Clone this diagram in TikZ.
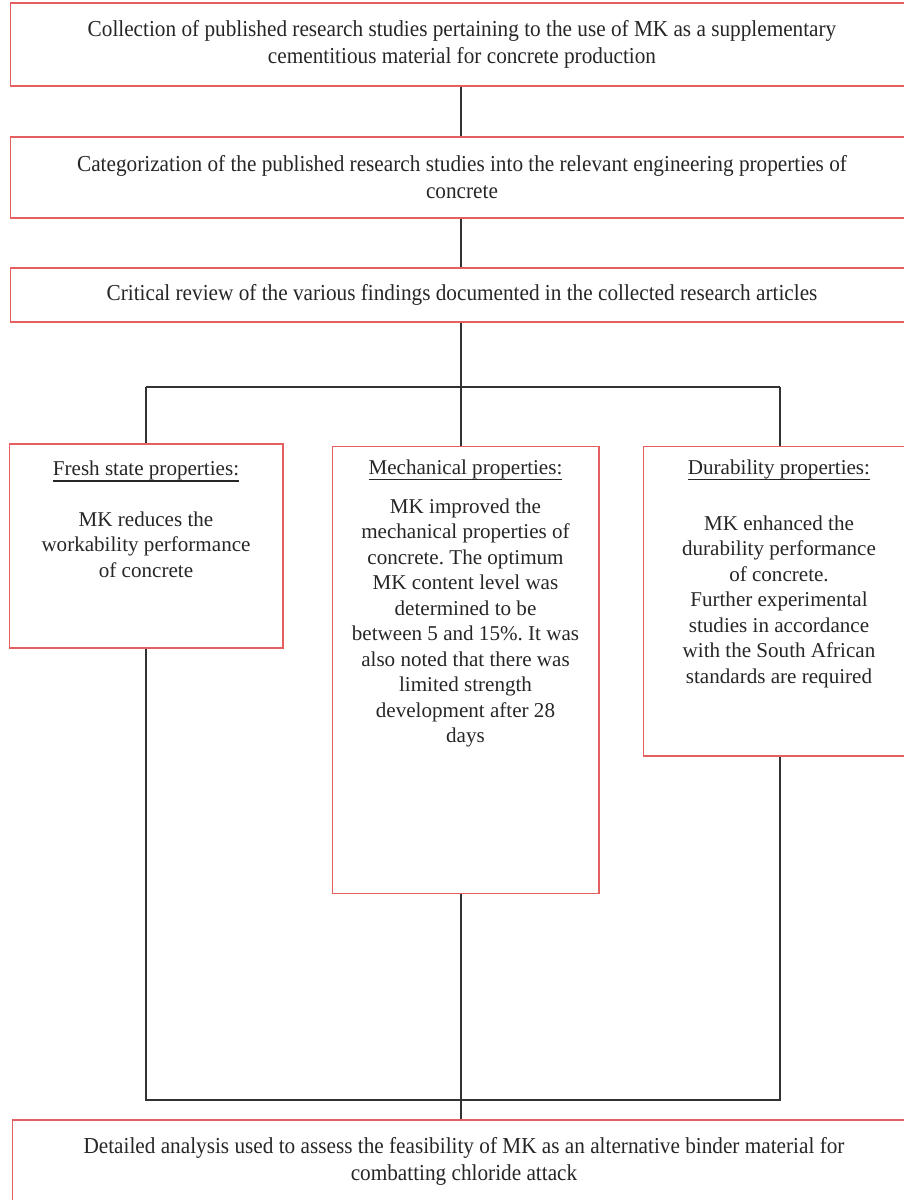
\documentclass[tikz,border=0pt]{standalone}
\usepackage{fontspec}
\setmainfont{Liberation Serif}
\newfontfamily\widefont[FakeStretch=0.93]{Liberation Serif}
\usepackage{tikz}
\usetikzlibrary{positioning}

\definecolor{boxred}{RGB}{228,96,96}
\definecolor{linegray}{RGB}{50,50,50}
\newcommand{\headline}[1]{\setbox0\hbox{#1}\rlap{\rule[-3.4pt]{\wd0}{0.9pt}}\box0}
\frenchspacing

\begin{document}
\begin{tikzpicture}[x=0.02cm, y=-0.02cm,
    widebox/.style={draw=boxred, line width=0.6pt, align=center, minimum width=18.08cm,
      font=\widefont\fontsize{13}{15.3}\selectfont, text=black!85},
    propbox/.style={draw=boxred, line width=0.6pt},
    proptext/.style={align=center, inner sep=0pt, anchor=north,
      font=\fontsize{12}{14.5}\selectfont, text=black!85},
    link/.style={draw=linegray, line width=0.6pt}]
    \useasboundingbox (0,0) rectangle (903,1200);

    % top of the chart
    \node [widebox, minimum height=1.66cm] (collect) at (462,44.5) {Collection of published research studies pertaining to the use of MK as a supplementary\\ cementitious material for concrete production};
    \node [widebox, minimum height=1.62cm] (categ) at (462,177.5) {Categorization of the published research studies into the relevant engineering properties of\\ concrete};
    \node [widebox, minimum height=1.08cm] (review) at (462,295) {Critical review of the various findings documented in the collected research articles};

    % the three property boxes
    \node [propbox, minimum width=5.48cm, minimum height=4.08cm] (fresh) at (146,546) {};
    \node [propbox, minimum width=5.34cm, minimum height=8.96cm] (mech) at (465.5,670) {};
    \node [propbox, minimum width=5.44cm, minimum height=6.2cm] (dura) at (779,601) {};

    \node [proptext, below=0.35cm of fresh.north] (freshtxt) {\headline{Fresh state properties:}\\[14pt]
      MK reduces the\\ workability performance\\ of concrete};
    \node [proptext, below=0.28cm of mech.north] (mechtxt) {\headline{Mechanical properties:}\\[7.7pt]
      MK improved the\\ mechanical properties of\\ concrete. The optimum\\ MK content level was\\ determined to be\\
      between 5 and 15\%. It was\\ also noted that there was\\ limited strength\\ development after 28\\ days};
    \node [proptext, below=0.28cm of dura.north] (duratxt) {\headline{Durability properties:}\\[17.3pt]
      MK enhanced the\\ durability performance\\ of concrete.\\ Further experimental\\ studies in accordance\\
      with the South African\\ standards are required};

    % bottom of the chart
    \node [widebox, minimum height=1.64cm] (final) at (464,1161) {Detailed analysis used to assess the feasibility of MK as an alternative binder material for\\ combatting chloride attack};

    \coordinate (split) at (461,387);
    \coordinate (splitl) at (146,387);
    \coordinate (splitr) at (780,387);
    \coordinate (merge) at (461,1100);
    \coordinate (mergel) at (146,1100);
    \coordinate (merger) at (780,1100);

    \draw [link] (collect.south -| split) -- (categ.north -| split);
    \draw [link] (categ.south -| split) -- (review.north -| split);
    \draw [link] (review.south -| split) -- (split);
    \draw [link] (splitl) -- (splitr);
    \draw [link] (splitl) -- (fresh.north -| splitl);
    \draw [link] (split) -- (mech.north -| split);
    \draw [link] (splitr) -- (dura.north -| splitr);
    \draw [link, line width=0.9pt] (fresh.south -| mergel) -- (mergel) -- (merger) -- (dura.south -| merger);
    \draw [link] (mech.south -| merge) -- (final.north -| merge);
\end{tikzpicture}
\end{document}
